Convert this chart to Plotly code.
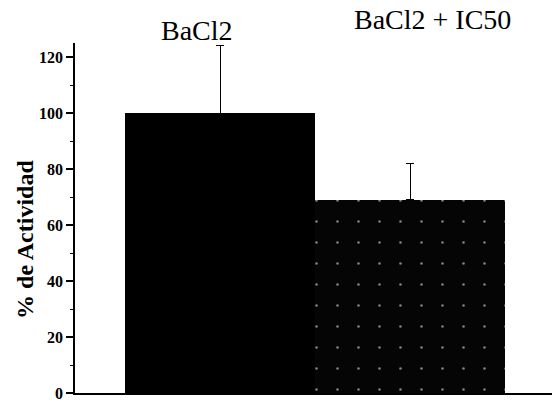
import plotly.graph_objects as go

categories = ["BaCl2", "BaCl2 + IC50"]
values = [100, 69]
errors_up = [24, 13]
y_ticks = [0, 20, 40, 60, 80, 100, 120]

fig = go.Figure()
fig.add_trace(go.Bar(
    x=[0, 1],
    y=values,
    width=1,
    marker=dict(
        color=["#000000", "#050505"],
        line=dict(width=0),
        pattern=dict(
            shape=["", "."],
            fgcolor="white",
            bgcolor="#050505",
            size=21,
            solidity=0.012,
        ),
    ),
    error_y=dict(
        type="data",
        symmetric=False,
        array=errors_up,
        arrayminus=[0, 0],
        color="black",
        thickness=1,
        width=4,
    ),
    showlegend=False,
))

fig.update_layout(
    width=553, height=403,
    margin=dict(l=75, r=1, t=43, b=10),
    paper_bgcolor="white", plot_bgcolor="white",
    bargap=0,
    xaxis=dict(
        range=[-0.763, 1.747],
        showticklabels=False, ticks="",
        showgrid=False, zeroline=False, automargin=False,
        showline=True, linecolor="black", linewidth=1.5,
    ),
    yaxis=dict(
        range=[0, 125],
        tickvals=y_ticks,
        ticktext=[str(v) for v in y_ticks],
        ticks="outside", ticklen=7, tickwidth=1.5, tickcolor="black",
        ticklabeloverflow="allow", automargin=False,
        minor=dict(dtick=10, ticks="outside", ticklen=3, tickwidth=1, tickcolor="black"),
        tickfont=dict(family="Liberation Serif", size=16, color="black", weight="bold"),
        showgrid=False, zeroline=False,
        showline=True, linecolor="black", linewidth=1.5,
    ),
    annotations=[
        dict(text=categories[0], xref="x", yref="paper", x=-0.12, y=1.036,
             xanchor="center", yanchor="middle", showarrow=False,
             font=dict(family="Liberation Serif", size=28, color="black")),
        dict(text=categories[1], xref="x", yref="paper", x=1.12, y=1.067,
             xanchor="center", yanchor="middle", showarrow=False,
             font=dict(family="Liberation Serif", size=28, color="black")),
        dict(text="% de Actividad", xref="paper", yref="paper", x=-0.105, y=0.44,
             xanchor="center", yanchor="middle", showarrow=False, textangle=-90,
             font=dict(family="Liberation Serif", size=24, color="black", weight="bold")),
    ],
)

fig.write_html("out.html")
